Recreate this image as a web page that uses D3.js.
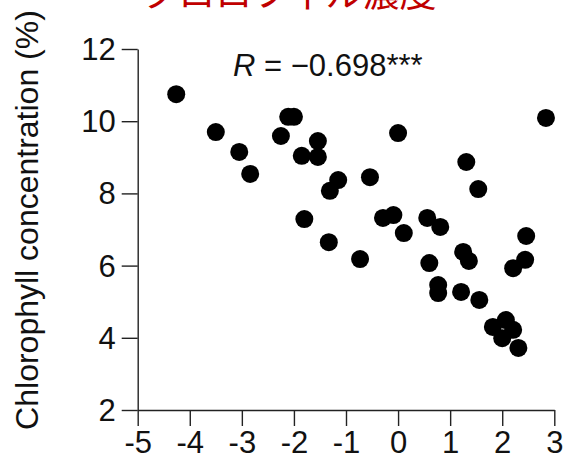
<!DOCTYPE html>
<html>
<head>
<meta charset="utf-8">
<script src="https://cdn.jsdelivr.net/npm/d3@7"></script>
<style>
  html, body { margin: 0; padding: 0; background: #fff; }
  svg { display: block; }
</style>
</head>
<body>
<svg id="chart" width="568" height="464"></svg>
<script>
// ---- data ----
const xValues = [-4.26, -3.50, -3.05, -2.84, -2.25, -2.11, -2.00, -1.54, -1.85, -1.54,
                 -1.15, -1.31, 0.00, -0.54, -1.80, -1.33, -0.73, -0.29, -0.09, 0.11,
                 2.84, 1.31, 1.54, 0.56, 0.81, 0.60, 1.25, 1.36, 2.46, 2.44,
                 2.21, 0.77, 0.77, 1.21, 1.56, 1.82, 2.07, 2.21, 2.00, 2.31];
const yValues = [10.75, 9.70, 9.15, 8.54, 9.59, 10.12, 10.12, 9.45, 9.04, 9.01,
                 8.37, 8.07, 9.67, 8.45, 7.29, 6.65, 6.18, 7.32, 7.40, 6.90,
                 10.09, 8.87, 8.12, 7.32, 7.07, 6.07, 6.38, 6.13, 6.82, 6.16,
                 5.93, 5.46, 5.24, 5.27, 5.05, 4.30, 4.49, 4.22, 3.99, 3.72];
const xTicks = [-5, -4, -3, -2, -1, 0, 1, 2, 3];
const yTicks = [2, 4, 6, 8, 10, 12];
const titleText = "クロロフィル濃度";
const yLabel = "Chlorophyll concentration (%)";
const statLabel = "R";
const statValue = " = \u22120.698***";

const points = xValues.map((x, i) => ({ x, y: yValues[i] }));

// ---- layout ----
const svg = d3.select("#chart");
const font = "'Liberation Sans', Arial, sans-serif";
const axisColor = "#222";

const x = d3.scaleLinear().domain([-5, 3]).range([137.7, 554.3]);
const y = d3.scaleLinear().domain([2, 12]).range([410, 49]);

// title (cropped at the top edge, as in the reference)
svg.append("text")
  .attr("x", 289).attr("y", 7)
  .attr("text-anchor", "middle")
  .attr("font-family", "'Noto Sans CJK JP', sans-serif")
  .attr("font-size", 37)
  .attr("fill", "#c00000")
  .text(titleText);

// axes
const xAxis = d3.axisBottom(x).tickValues(xTicks).tickSize(16).tickSizeOuter(0).tickPadding(5)
  .tickFormat(d => d < 0 ? "-" + Math.abs(d) : String(d));
const yAxis = d3.axisLeft(y).tickValues(yTicks).tickSize(16).tickSizeOuter(0).tickPadding(6);

const gx = svg.append("g").attr("transform", `translate(0,${y(2)})`).call(xAxis);
const gy = svg.append("g").attr("transform", `translate(${x(-5)},0)`).call(yAxis);

[gx, gy].forEach(g => {
  g.select(".domain").attr("stroke", axisColor).attr("stroke-width", 1.4);
  g.selectAll(".tick line").attr("stroke", axisColor).attr("stroke-width", 1.4);
  g.selectAll(".tick text")
    .attr("font-family", font)
    .attr("font-size", 31)
    .attr("fill", "#111");
});
gy.selectAll(".tick text").attr("dy", "0.34em");

// y axis label
svg.append("text")
  .attr("transform", "translate(38,220) rotate(-90)")
  .attr("text-anchor", "middle")
  .attr("font-family", font)
  .attr("font-size", 32)
  .attr("fill", "#111")
  .text(yLabel);

// correlation annotation
const ann = svg.append("text")
  .attr("x", 233).attr("y", 76)
  .attr("font-family", font)
  .attr("font-size", 31)
  .attr("fill", "#111");
ann.append("tspan").attr("font-style", "italic").text(statLabel);
ann.append("tspan").text(statValue);

// points
svg.append("g")
  .selectAll("circle")
  .data(points)
  .join("circle")
  .attr("cx", d => x(d.x))
  .attr("cy", d => y(d.y))
  .attr("r", 9)
  .attr("fill", "#000");
</script>
</body>
</html>
